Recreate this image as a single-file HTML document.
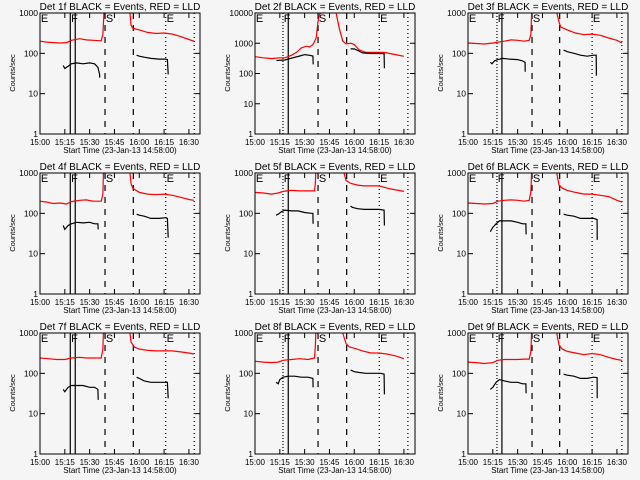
<!DOCTYPE html>
<html><head><meta charset="utf-8"><style>
html,body{margin:0;padding:0;background:#f5f5f5;}
svg{display:block;font-family:"Liberation Sans",sans-serif;}
</style></head><body>
<svg id="chart" width="640" height="480" xmlns="http://www.w3.org/2000/svg">
<rect width="640" height="480" fill="#f5f5f5"/>
</svg>
<script>
// ---- data (minutes after 15:00, counts/sec) ----
const p1RedT=[0,4,8,12,16,19,24,28,32,37,38,39,null,54.4,55,56,60,65,70,75,80,85,90,93];
const p1RedV=[200,190,185,180,185,210,230,215,210,205,300,2000,null,1000,500,420,380,330,310,320,300,260,220,200];
const p1BlkT=[14,15,17,19,22,26,30,33,35,36,36.1,null,58.4,60,63,67,72,76,77,77.5];
const p1BlkV=[50,42,48,55,58,55,58,55,45,30,25,null,90,85,80,75,72,72,70,30];

const p2RedT=[0,5,10,15,18,22,25,28,31,33,35,37,38,39,41,45,49,51,53,55,58,60,63,67,72,78,85,90];
const p2RedV=[360,330,310,330,330,400,500,700,800,750,900,1500,5000,9000,11000,11000,10000,3000,1200,950,1000,900,600,500,500,500,420,370];
const p2BlkT=[13,18,22,27,30,33,35,35.2,null,57.8,60,62,65,70,75,78,78.2];
const p2BlkV=[270,280,320,380,420,400,380,200,null,650,650,580,480,460,460,450,150];

const p3RedT=[0,5,10,15,18,22,26,30,34,37,38,38.7,null,53.4,55,56,60,65,70,75,80,85,90,93];
const p3RedV=[180,175,170,180,190,200,215,210,200,210,300,2000,null,1100,600,450,380,320,290,300,280,240,210,180];
const p3BlkT=[13.5,14.5,16,18,21,25,30,33,34.5,34.6,null,57.8,60,64,68,72,76,77.5,77.6];
const p3BlkV=[60,55,65,70,75,72,70,65,60,35,null,120,110,100,90,85,90,90,28];

const p4RedT=[0,4,8,12,16,19,24,28,32,37,38,38.5,null,54.4,55,56,60,65,70,75,80,85,90,93];
const p4RedV=[200,190,175,180,170,195,210,215,200,200,300,2000,null,1000,550,420,330,300,290,300,280,250,220,210];
const p4BlkT=[14,15,17,19,22,26,30,33,35,35.2,null,58.4,60,63,67,72,76,77,77.5];
const p4BlkV=[50,40,50,55,60,58,60,55,55,40,null,95,90,85,75,75,78,75,25];

const p5RedT=[0,5,10,14,17,22,27,32,36,36.5,37,null,53.8,55,58,62,66,70,75,80,85,90];
const p5RedV=[330,320,300,320,350,370,360,360,360,600,2000,null,1000,650,550,500,480,480,480,420,380,350];
const p5BlkT=[12.7,14,16,18,22,26,30,34,35,35.1,null,57.8,59,62,66,70,75,78,78.2];
const p5BlkV=[90,95,110,120,115,115,105,100,100,55,null,150,140,130,125,125,125,120,50];

const p6RedT=[0,5,10,15,18,22,26,30,34,37,38,38.7,null,53.4,55,57,60,65,70,75,80,85,90,93];
const p6RedV=[180,175,170,175,200,210,215,210,200,210,350,2000,null,1100,500,420,370,330,300,300,280,260,210,190];
const p6BlkT=[13.5,15,17,19,22,26,30,33,35,35.1,null,57.8,60,64,68,72,76,78,78.1];
const p6BlkV=[35,45,55,65,65,65,60,55,55,30,null,95,90,85,75,75,75,70,22];

const p7RedT=[0,5,10,15,19,24,28,32,37,38,38.5,null,54.4,55,57,60,65,70,75,80,85,90,93];
const p7RedV=[240,230,220,220,240,250,240,240,240,400,2000,null,1000,600,450,400,370,360,360,360,340,320,300];
const p7BlkT=[14,15,17,19,22,26,30,33,35,35.2,null,58.4,60,63,67,72,76,77,77.5];
const p7BlkV=[40,35,45,50,50,50,45,45,40,22,null,80,75,65,60,60,60,60,24];

const p8RedT=[0,5,10,14,17,22,27,32,36,36.5,37,null,53,55,57,60,65,70,75,80,85,90];
const p8RedV=[200,190,185,190,210,220,230,220,240,500,2000,null,1000,550,450,420,360,320,320,300,270,230];
const p8BlkT=[12.7,14,15,17,20,24,28,32,35,35.1,null,57.8,60,63,67,72,76,78,78.2];
const p8BlkV=[60,55,70,80,85,85,80,80,75,45,null,120,110,105,100,100,100,95,30];

const p9RedT=[0,5,10,15,18,22,26,30,34,37,38,38.7,null,53.4,55,57,60,65,70,75,80,85,90,93];
const p9RedV=[190,185,175,185,210,220,220,220,225,225,350,2000,null,1100,500,400,350,320,290,310,290,250,220,210];
const p9BlkT=[13.5,15,17,19,22,26,30,33,35,35.1,null,57.8,60,64,68,72,76,78,78.1];
const p9BlkV=[40,45,60,70,65,60,60,55,55,32,null,95,90,85,75,75,80,78,24];

const detNames=["1f","2f","3f","4f","5f","6f","7f","8f","9f"];
const decades=[3,4,3,3,3,3,3,3,3];
const xTickLabels=["15:00","15:15","15:30","15:45","16:00","16:15","16:30"];
const xTickMinutes=[0,15,30,45,60,75,90];
const markerLetters=["E","F","S","E"];
const col1Lines=[18.3,21.3,39.3,56.4,76,93.2];
const col2Lines=[16.9,20.1,38.1,55.4,75.1,92.4];
const col3Lines=[17.5,20.5,38.7,55.4,75,93];

const reds=[[p1RedT,p1RedV],[p2RedT,p2RedV],[p3RedT,p3RedV],[p4RedT,p4RedV],[p5RedT,p5RedV],[p6RedT,p6RedV],[p7RedT,p7RedV],[p8RedT,p8RedV],[p9RedT,p9RedV]];
const blks=[[p1BlkT,p1BlkV],[p2BlkT,p2BlkV],[p3BlkT,p3BlkV],[p4BlkT,p4BlkV],[p5BlkT,p5BlkV],[p6BlkT,p6BlkV],[p7BlkT,p7BlkV],[p8BlkT,p8BlkV],[p9BlkT,p9BlkV]];
const colLines=[col1Lines,col2Lines,col3Lines];

const NS="http://www.w3.org/2000/svg";
const svg=document.getElementById('chart');
function mk(tag,attrs,parent){const e=document.createElementNS(NS,tag);for(const k in attrs)e.setAttribute(k,attrs[k]);(parent||svg).appendChild(e);return e;}

const colX=[0,215,428], rowY=[0,160,320];
const PW=160, PTOP=13, PBOT=134, TMAX=96.7;

for(let i=0;i<9;i++){
  const c=i%3, r=Math.floor(i/3);
  const x0=colX[c]+40, y0=rowY[r]+PTOP, y1=rowY[r]+PBOT;
  const nd=decades[i];
  const xs=t=>x0+t/TMAX*PW;
  const ys=v=>y1-Math.log10(v)/nd*(y1-y0);
  const g=mk('g',{});
  
  
  const cid='clip'+i;
  const cp=mk('clipPath',{id:cid},g);
  mk('rect',{x:x0,y:y0,width:PW,height:y1-y0},cp);

  const title=mk('text',{x:x0+80,y:rowY[r]+10,'text-anchor':'middle','font-size':'10',fill:'#000'},g);
  title.textContent='Det '+detNames[i]+' BLACK = Events, RED = LLD';
  
  

  const yl=mk('text',{transform:`translate(${colX[c]+15},${rowY[r]+73}) rotate(-90)`,'text-anchor':'middle','font-size':'7.5',fill:'#000'},g);
  yl.textContent='Counts/sec';
  
  

  const xl=mk('text',{x:x0+80,y:rowY[r]+153,'text-anchor':'middle','font-size':'8',fill:'#000'},g);
  xl.textContent='Start Time (23-Jan-13 14:58:00)';
  
  

  for(let d=0;d<=nd;d++){
    const v=Math.pow(10,d), yy=ys(v);
    const t=mk('text',{x:x0-2,y:yy+3,'text-anchor':'end','font-size':'8.5',fill:'#000'},g);
    t.textContent=String(v);
    
    
    mk('line',{x1:x0,x2:x0+5,y1:yy,y2:yy,stroke:'#000','stroke-width':1},g);
    mk('line',{x1:x0+PW-5,x2:x0+PW,y1:yy,y2:yy,stroke:'#000','stroke-width':1},g);
  }
  for(let k=0;k<xTickMinutes.length;k++){
    const xx=xs(xTickMinutes[k]);
    const t=mk('text',{x:xx,y:rowY[r]+145,'text-anchor':'middle','font-size':'8',fill:'#000'},g);
    t.textContent=xTickLabels[k];
    
    
    mk('line',{x1:xx,x2:xx,y1:y1,y2:y1-5,stroke:'#000','stroke-width':1},g);
    mk('line',{x1:xx,x2:xx,y1:y0,y2:y0+5,stroke:'#000','stroke-width':1},g);
  }
  const L=colLines[c];
  const styles=c===0?['none','none','6,6','6,6','1,3','1,3']:['1,2','none','6,6','6,6','1,3','1,3'];
  for(let k=0;k<L.length;k++){
    const ln=mk('line',{x1:xs(L[k]),x2:xs(L[k]),y1:y0,y2:y1,stroke:'#000','stroke-width':1.2,'stroke-dasharray':styles[k]},g);
    
    
  }
  const lx=[0.5,L[0]+0.5,L[2]+0.5,L[4]+0.5];
  for(let k=0;k<4;k++){
    const t=mk('text',{x:xs(lx[k]),y:y0+9,'font-size':'11',fill:'#000'},g);
    t.textContent=markerLetters[k];
    
    
  }
  function path(T,V){let d='',pen=false;for(let k=0;k<T.length;k++){if(T[k]===null){pen=false;continue;}d+=(pen?'L':'M')+xs(T[k]).toFixed(1)+','+ys(V[k]).toFixed(1);pen=true;}return d;}
  const rp=mk('path',{d:path(reds[i][0],reds[i][1]),fill:'none',stroke:'#ff0000','stroke-width':1.2,'clip-path':`url(#${cid})`},g);
  
  
  const bp=mk('path',{d:path(blks[i][0],blks[i][1]),fill:'none',stroke:'#000','stroke-width':1.2,'clip-path':`url(#${cid})`},g);
  
  
  const fr=mk('rect',{x:x0,y:y0,width:PW,height:y1-y0,fill:'none',stroke:'#000','stroke-width':1},g);
  
  
}
</script>
</body></html>
